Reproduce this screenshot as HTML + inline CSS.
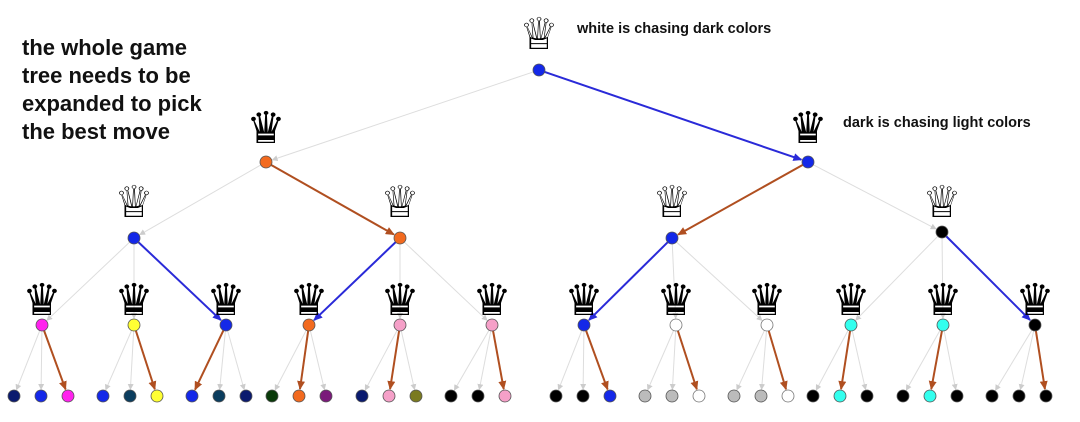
<!DOCTYPE html>
<html><head><meta charset="utf-8"><style>
body{margin:0;background:#fff;width:1080px;height:422px;overflow:hidden}
svg{display:block}
text{font-family:"Liberation Sans","DejaVu Sans",sans-serif}
</style></head><body>
<svg id="s" width="1080" height="422" xmlns="http://www.w3.org/2000/svg">
<defs>
<marker id="ag" markerWidth="6" markerHeight="6" refX="5" refY="3" orient="auto" markerUnits="userSpaceOnUse"><path d="M0,0L6,3L0,6z" fill="#ccc"/></marker>
<marker id="ab" markerWidth="9" markerHeight="8" refX="8" refY="4" orient="auto" markerUnits="userSpaceOnUse"><path d="M0,0L9,4L0,8z" fill="#2a2ad8"/></marker>
<marker id="ao" markerWidth="9" markerHeight="8" refX="8" refY="4" orient="auto" markerUnits="userSpaceOnUse"><path d="M0,0L9,4L0,8z" fill="#b04f20"/></marker>
</defs>
<g font-weight="bold" font-size="22" fill="#111">
<text x="22" y="55">the whole game</text>
<text x="22" y="83">tree needs to be</text>
<text x="22" y="111">expanded to pick</text>
<text x="22" y="139">the best move</text>
</g>
<text x="577" y="33" font-weight="bold" font-size="14.5" fill="#111">white is chasing dark colors</text>
<text x="843" y="127" font-weight="bold" font-size="14.5" fill="#111">dark is chasing light colors</text>
<g id="g"></g>
</svg>
<script>
const S=document.getElementById('g'),ns='http://www.w3.org/2000/svg';
function el(t,a,txt){const e=document.createElementNS(ns,t);for(const k in a)e.setAttribute(k,a[k]);if(txt)e.textContent=txt;S.appendChild(e);return e;}
const R=6;
function edge(x1,y1,x2,y2,type){const dx=x2-x1,dy=y2-y1,d=Math.hypot(dx,dy);const ux=dx/d,uy=dy/d;
 const c=type=='b'?'#2a2ad8':type=='o'?'#b04f20':'#ddd';
 el('line',{x1:x1+ux*R,y1:y1+uy*R,x2:x2-ux*(R+1),y2:y2-uy*(R+1),stroke:c,'stroke-width':type=='g'?1:2,'marker-end':'url(#a'+type+')'});}
const root=[539,70],L1=[[266,162,'#f26a1f'],[808,162,'#1428e8']];
const L2=[[134,238,'#1428e8'],[400,238,'#f26a1f'],[672,238,'#1428e8'],[942,232,'#000']];
const L3x=[42,134,226,309,400,492,584,676,767,851,943,1035];
const L3c=['#ff22ee','#ffff33','#1428e8','#f26a1f','#f5a0c8','#f5a0c8','#1428e8','#fff','#fff','#33ffee','#33ffee','#000'];
const L3y=325,LY=396;
const lx=[[14,41,68],[103,130,157],[192,219,246],[272,299,326],[362,389,416],[451,478,505],[556,583,610],[645,672,699],[734,761,788],[813,840,867],[903,930,957],[992,1019,1046]];
const N='#0a1a6e',T='#0b3d5e',K='#000',G='#bbb',W='#fff',B='#1428e8',P='#f5a0c8',C='#33ffee';
const lc=[[N,B,'#ff22ee'],[B,T,'#ffff33'],[B,T,N],['#0a3a0a','#f26a1f','#7a1a7a'],[N,P,'#7a7a20'],[K,K,P],[K,K,B],[G,G,W],[G,G,W],[K,C,K],[K,C,K],[K,K,K]];
const best=[2,2,0,1,1,2,2,2,2,1,1,2];
L1.forEach((n,i)=>edge(root[0],root[1],n[0],n[1],i==1?'b':'g'));
L2.forEach((n,i)=>{const p=L1[i<2?0:1];edge(p[0],p[1],n[0],n[1],(i==1||i==2)?'o':'g');});
const bestL3=[2,3,6,11];
L3x.forEach((x,i)=>{const p=L2[Math.floor(i/3)];edge(p[0],p[1],x,L3y,bestL3.includes(i)?'b':'g');
 lx[i].forEach((lxx,j)=>edge(x,L3y,lxx,LY,best[i]==j?'o':'g'));});
function q(x,y,ch){el('text',{x:x,y:y,'font-size':44,'text-anchor':'middle',fill:'#000','font-family':'DejaVu Sans,sans-serif'},ch);}
q(539,49,'♕');L1.forEach(n=>q(n[0],143,'♛'));L2.forEach(n=>q(n[0],217,'♕'));L3x.forEach(x=>q(x,315,'♛'));
function node(x,y,c){el('circle',{cx:x,cy:y,r:R,fill:c,stroke:c=='#fff'?'#777':'#555','stroke-width':0.8});}
node(root[0],root[1],'#1428e8');L1.forEach(n=>node(n[0],n[1],n[2]));L2.forEach(n=>node(n[0],n[1],n[2]));
L3x.forEach((x,i)=>{node(x,L3y,L3c[i]);lx[i].forEach((lxx,j)=>node(lxx,LY,lc[i][j]));});
</script>
</body></html>
